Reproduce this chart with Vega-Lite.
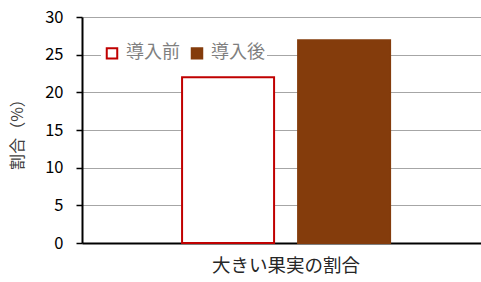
{
  "$schema": "https://vega.github.io/schema/vega-lite/v6.json",
  "width": 399,
  "height": 226,
  "autosize": {"type": "none"},
  "padding": {"left": 82, "top": 17, "right": 0, "bottom": 39},
  "background": "white",
  "data": {"values": [
    {"category": "大きい果実の割合", "group": "導入前", "value": 22.0},
    {"category": "大きい果実の割合", "group": "導入後", "value": 26.9}
  ]},
  "config": {
    "font": "Noto Sans CJK JP",
    "view": {"stroke": null}
  },
  "mark": {"type": "bar", "strokeWidth": 2},
  "encoding": {
    "x": {
      "field": "category", "type": "nominal",
      "scale": {"paddingInner": 0, "paddingOuter": 0.459, "align": 0.524},
      "axis": {"title": null, "labelAngle": 0, "labelFontSize": 18.5, "labelColor": "#262626", "labelPadding": 13, "ticks": false, "domainColor": "black", "domainWidth": 2, "grid": false}
    },
    "xOffset": {"field": "group", "type": "nominal", "scale": {"paddingInner": 0.207, "paddingOuter": 0}},
    "y": {
      "field": "value", "type": "quantitative",
      "scale": {"domain": [0, 30]},
      "axis": {"values": [0, 5, 10, 15, 20, 25, 30], "title": "割合（%）", "titleFontSize": 16, "titleFontWeight": "normal", "titleColor": "#404040", "titlePadding": 19, "labelFontSize": 16.5, "labelColor": "black", "labelPadding": 13, "tickSize": 6, "tickColor": "black", "tickWidth": 1.5, "domainColor": "black", "domainWidth": 2, "gridColor": "#a6a6a6", "gridWidth": 1}
    },
    "fill": {
      "field": "group", "type": "nominal",
      "scale": {"domain": ["導入前", "導入後"], "range": ["white", "#843c0c"]},
      "legend": {"title": null, "orient": "none", "legendX": 19, "legendY": 25, "direction": "horizontal", "symbolType": "square", "symbolSize": 110, "symbolStrokeWidth": 2, "labelFontSize": 18, "labelColor": "#7f7f7f", "labelOffset": 5, "columnPadding": 7, "fillColor": "white", "padding": 2}
    },
    "stroke": {
      "field": "group", "type": "nominal",
      "scale": {"domain": ["導入前", "導入後"], "range": ["#c00000", "#843c0c"]},
      "legend": {"title": null, "orient": "none", "legendX": 19, "legendY": 25, "direction": "horizontal", "symbolType": "square", "symbolSize": 110, "symbolStrokeWidth": 2, "labelFontSize": 18, "labelColor": "#7f7f7f", "labelOffset": 5, "columnPadding": 7, "fillColor": "white", "padding": 2}
    }
  }
}
